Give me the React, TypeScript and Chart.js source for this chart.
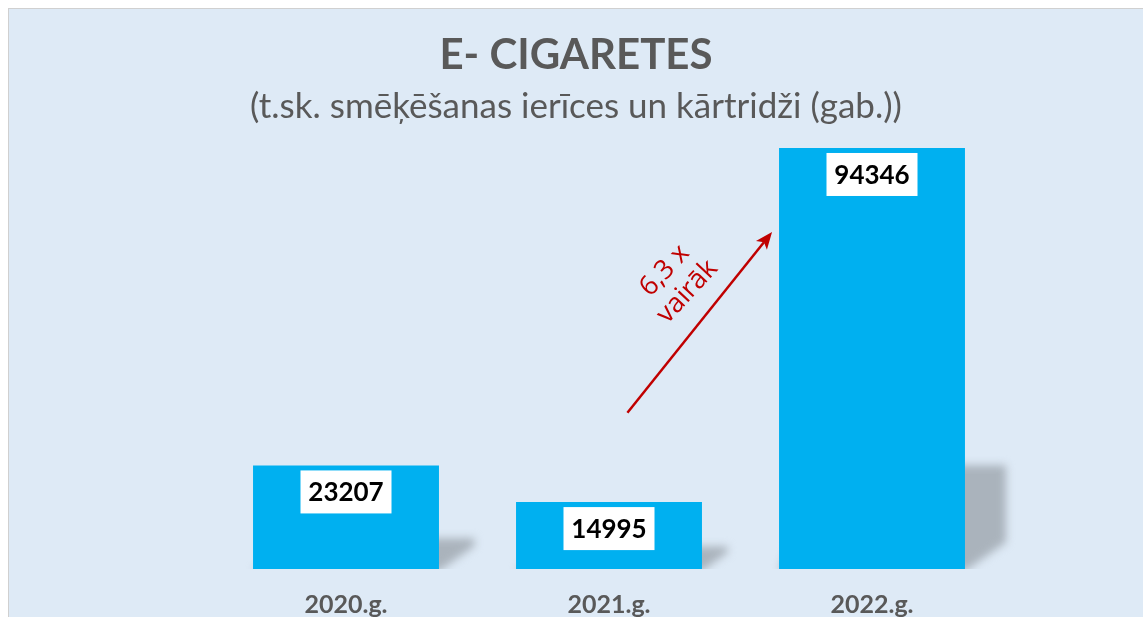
import React, { useEffect, useRef } from "react";
import { Chart, registerables } from "chart.js";

Chart.register(...registerables);

const categories = ["2020.g.", "2021.g.", "2022.g."];
const values = [23207, 14995, 94346];
const titleText = "E- CIGARETES";
const subtitleText = "(t.sk. smēķēšanas ierīces un kārtridži (gab.))";
// annotation anchors in data space: [category index, value]
const arrowFrom = [1.07, 35000];
const arrowTo = [1.62, 75500];
const noteLines = ["6,3 x", "vairāk"];
const noteAnchor = [1.255, 64500];

const BG = "#DEEAF6";
const BAR = "#00B0F0";
const GREY = "#595959";
const RED = "#C00000";

const shadowPlugin = {
  id: "barShadow",
  beforeDatasetsDraw(chart: any) {
    const ctx = chart.ctx;
    const meta = chart.getDatasetMeta(0);
    const area = chart.chartArea;
    ctx.save();
    ctx.beginPath();
    ctx.rect(0, 0, chart.width, area.bottom);
    ctx.clip();
    ctx.filter = "blur(4px)";
    ctx.fillStyle = "#AAB3BC";
    meta.data.forEach((bar: any) => {
      const { x, y, base, width } = bar.getProps(["x", "y", "base", "width"], true);
      const h = base - y;
      const sh = 0.23 * h + 7;
      const dx = Math.min(41, sh * 1.15);
      const l = x - width / 2;
      const r = x + width / 2;
      ctx.beginPath();
      ctx.moveTo(l + dx, base - sh);
      ctx.lineTo(r + dx, base - sh);
      ctx.lineTo(r + dx, base - 0.65 * dx);
      ctx.lineTo(r, base + 2);
      ctx.lineTo(l, base + 2);
      ctx.closePath();
      ctx.fill();
    });
    ctx.restore();
  },
};

const labelPlugin = {
  id: "valueBoxes",
  afterDatasetsDraw(chart: any) {
    const ctx = chart.ctx;
    const meta = chart.getDatasetMeta(0);
    ctx.save();
    ctx.font = 'bold 26px Lato, "DejaVu Sans", sans-serif';
    ctx.textAlign = "center";
    ctx.textBaseline = "middle";
    meta.data.forEach((bar: any, i: number) => {
      const { x, y } = bar.getProps(["x", "y"], true);
      const bw = 91;
      const bh = 43;
      const top = y + 5;
      ctx.fillStyle = "#FFFFFF";
      ctx.fillRect(x - bw / 2, top, bw, bh);
      ctx.fillStyle = "#000000";
      ctx.fillText(String(values[i]), x, top + bh / 2 + 1);
    });
    ctx.restore();
  },
};

const arrowPlugin = {
  id: "growthArrow",
  afterDatasetsDraw(chart: any) {
    const ctx = chart.ctx;
    const xs = chart.scales.x;
    const ys = chart.scales.y;
    const x0 = xs.getPixelForValue(arrowFrom[0]);
    const y0 = ys.getPixelForValue(arrowFrom[1]);
    const x1 = xs.getPixelForValue(arrowTo[0]);
    const y1 = ys.getPixelForValue(arrowTo[1]);
    const len = Math.hypot(x1 - x0, y1 - y0);
    const ux = (x1 - x0) / len;
    const uy = (y1 - y0) / len;
    const vx = -uy;
    const vy = ux;
    const head = 17;
    const hw = 7;
    ctx.save();
    ctx.strokeStyle = RED;
    ctx.fillStyle = RED;
    ctx.lineWidth = 2.5;
    ctx.beginPath();
    ctx.moveTo(x0, y0);
    ctx.lineTo(x1 - ux * (head - 4), y1 - uy * (head - 4));
    ctx.stroke();
    ctx.beginPath();
    ctx.moveTo(x1, y1);
    ctx.lineTo(x1 - ux * head + vx * hw, y1 - uy * head + vy * hw);
    ctx.lineTo(x1 - ux * (head - 4), y1 - uy * (head - 4));
    ctx.lineTo(x1 - ux * head - vx * hw, y1 - uy * head - vy * hw);
    ctx.closePath();
    ctx.fill();

    const cx = xs.getPixelForValue(noteAnchor[0]);
    const cy = ys.getPixelForValue(noteAnchor[1]);
    ctx.translate(cx, cy);
    ctx.rotate((-47 * Math.PI) / 180);
    ctx.font = '27px "Open Sans", sans-serif';
    ctx.textAlign = "center";
    ctx.textBaseline = "middle";
    const lh = 31;
    noteLines.forEach((t, i) => {
      ctx.fillText(t, 0, (i - (noteLines.length - 1) / 2) * lh);
    });
    ctx.restore();
  },
};

export default function App() {
  const ref = useRef<HTMLCanvasElement | null>(null);

  useEffect(() => {
    if (!ref.current) return;
    const chart = new Chart(ref.current, {
      type: "bar",
      data: {
        labels: categories,
        datasets: [
          {
            data: values,
            backgroundColor: BAR,
            borderWidth: 0,
            barPercentage: 0.707,
            categoryPercentage: 1,
          },
        ],
      },
      options: {
        animation: false,
        responsive: false,
        maintainAspectRatio: false,
        layout: { padding: { top: 0, left: 0, right: 0, bottom: 9 } },
        plugins: {
          legend: { display: false },
          tooltip: { enabled: false },
          title: {
            display: true,
            text: titleText,
            color: GREY,
            font: { family: 'Lato, "DejaVu Sans", sans-serif', size: 42, weight: "bold", lineHeight: 1 },
            padding: { top: 25, bottom: 0 },
          },
          subtitle: {
            display: true,
            text: subtitleText,
            color: GREY,
            font: { family: 'Lato, "DejaVu Sans", sans-serif', size: 35, weight: "normal", lineHeight: 0.9 },
            padding: { top: 15.25, bottom: 0 },
          },
        },
        scales: {
          x: {
            grid: { display: false, drawTicks: false },
            border: { display: false },
            ticks: {
              color: GREY,
              padding: 23,
              font: { family: 'Lato, "DejaVu Sans", sans-serif', size: 25, weight: "bold", lineHeight: 1 },
            },
          },
          y: {
            min: 0,
            max: 100000,
            display: true,
            ticks: { display: false },
            grid: { display: false, drawTicks: false },
            border: { display: false },
            afterFit: (s: any) => {
              s.width = 205.5;
            },
          },
          yr: {
            type: "linear",
            position: "right",
            display: true,
            ticks: { display: false },
            grid: { display: false, drawTicks: false },
            border: { display: false },
            afterFit: (s: any) => {
              s.width = 139.5;
            },
          },
        },
      } as any,
      plugins: [shadowPlugin, labelPlugin, arrowPlugin],
    });
    return () => chart.destroy();
  }, []);

  return (
    <div
      style={{
        position: "fixed",
        top: 8,
        left: 8,
        width: 1135,
        height: 609,
        boxSizing: "border-box",
        borderTop: "1px solid #D0D0D0",
        borderLeft: "1px solid #D0D0D0",
        background: BG,
        overflow: "hidden",
      }}
    >
      <canvas ref={ref} width={1134} height={640} style={{ display: "block" }} />
    </div>
  );
}
